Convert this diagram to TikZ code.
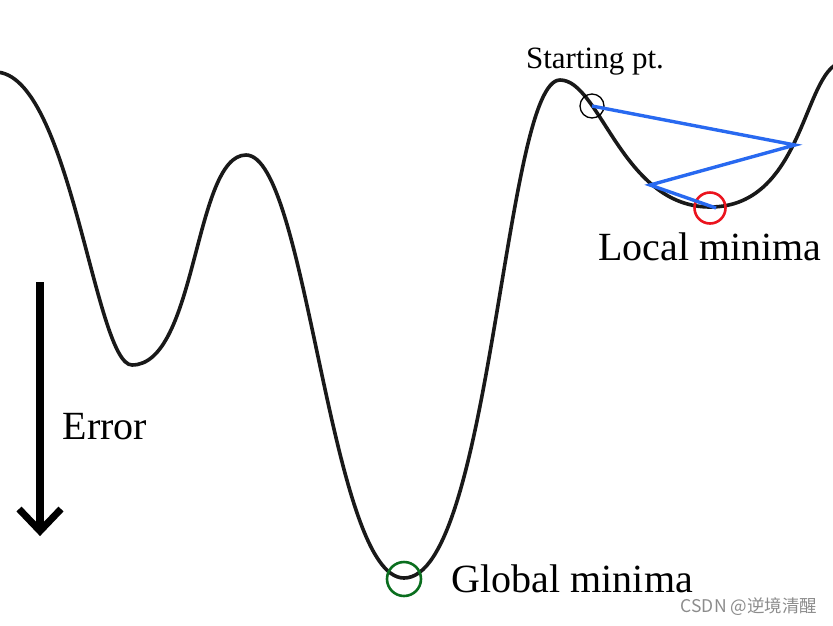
\documentclass[tikz,border=0pt]{standalone}
\usepackage{fontspec}
\setmainfont{Liberation Serif}
\newfontfamily\cjkfont{Noto Sans CJK SC}
\usetikzlibrary{positioning}

\definecolor{stepblue}{RGB}{40,105,240}
\definecolor{mingreen}{RGB}{10,110,30}
\definecolor{minred}{RGB}{235,20,30}

\tikzset{
  errcurve/.style={line width=3.6pt, black!90},
  gdstep/.style={line width=3.4pt, stepblue},
  mark circ/.style={circle, draw, inner sep=0pt},
  bigtext/.style={font=\fontsize{40}{47}\selectfont},
}

\begin{document}
\begin{tikzpicture}[x=1pt, y=-1pt]
  \useasboundingbox (0,0) rectangle (833,625);
  % Error surface: edge, local dip, hill, global dip, peak, local dip, edge
  \draw[errcurve] (-5,72)
    .. controls (70,72) and (95,365) .. (132,365)
    .. controls (197,365) and (194,155) .. (246,155)
    .. controls (307,155) and (330,578) .. (404,578)
    .. controls (491,578) and (505,80) .. (560,80)
    .. controls (600,80) and (622,207) .. (710,207)
    .. controls (807,207) and (803,62) .. (845,62);
  % Markers on the curve
  \node[mark circ, minimum size=24pt, line width=1.3pt] (start) at (592,106) {};
  \node[mark circ, minimum size=31pt, line width=2.6pt, minred] (lmin) at (710,208) {};
  \node[mark circ, minimum size=34pt, line width=2.6pt, mingreen] (gmin) at (404,579) {};
  % Gradient descent steps
  \coordinate (s1) at (795,145);
  \coordinate (s2) at (650,185);
  \draw[gdstep] (start.center) -- (s1) -- (s2) -- ([xshift=6pt]lmin.center);
  % Labels
  \node[font=\fontsize{31}{36}\selectfont] (startlbl) at (595,62) {Starting pt.};
  \node[bigtext] (locallbl) at (710,247) {Local minima};
  \node[bigtext, right=26pt of gmin] (globallbl) {Global minima};
  \node[bigtext] (errlbl) at (105,427) {Error};
  % Error arrow
  \draw[line width=8pt] (40,282) -- (40,530);
  \draw[line width=7pt, line join=miter] (19,509) -- (40,531) -- (61,509);
  % Watermark
  \node[font=\cjkfont\fontsize{17.5}{20}\selectfont, black!45] (mark) at (749,607) {CSDN @逆境清醒};
\end{tikzpicture}
\end{document}
